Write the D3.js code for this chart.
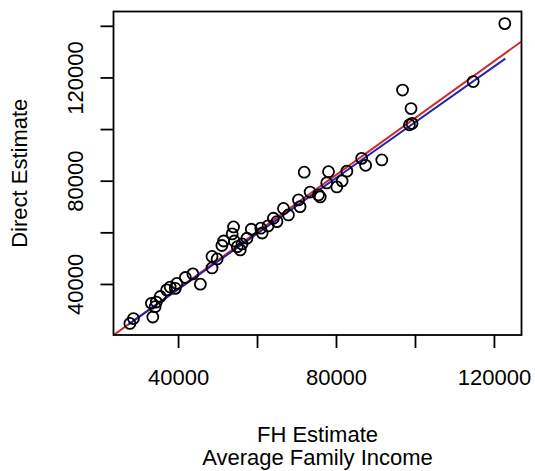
<!DOCTYPE html>
<html>
<head>
<meta charset="utf-8">
<script src="https://cdn.jsdelivr.net/npm/d3@7"></script>
<style>
  body { margin: 0; background: #fff; }
  text { font-family: "Liberation Sans", Arial, Helvetica, sans-serif; fill: #000; }
</style>
</head>
<body>
<script>
// the data points--
const fhEstimate = [27800, 28700, 33600, 33250, 34500, 34200, 35500, 37100, 38000, 39300,
  39700, 41850, 43750, 45650, 48600, 48600, 49900, 51100, 51550, 54050,
  53700, 54250, 55000, 55750, 56200, 57450, 58550, 60950, 61300, 62800,
  64150, 65050, 66700, 67950, 70500, 70900, 71950, 73450, 75550, 76000,
  77650, 78100, 80200, 81550, 82750, 86500, 87500, 91600, 96850, 99000,
  98600, 99250, 114750, 122750];
const directEstimate = [24700, 26600, 27200, 32500, 33000, 31200, 35150, 37700, 38800, 38300,
  40200, 42500, 43900, 39900, 46200, 50650, 49700, 54900, 56650, 62100,
  59400, 56650, 54450, 53200, 55500, 57700, 61200, 61600, 59750, 62500,
  65450, 64150, 69250, 66750, 72550, 69950, 83300, 75600, 74500, 73700,
  79150, 83500, 77600, 79900, 83700, 88650, 85950, 88050, 115100, 107950,
  101650, 102200, 118400, 140850];
//--

// the two fitted lines--
const redIntercept = -5880;
const redSlope = 1.101;
const blueX = [27430, 122880];
const blueY = [24300, 127290];
//--

// ticks--
const xTicks = [40000, 60000, 80000, 100000, 120000];
const xLabels = [40000, 80000, 120000];
const yTicks = [40000, 60000, 80000, 100000, 120000, 140000];
const yLabels = [40000, 80000, 120000];
//--

const w = 535;
const h = 471;
const pLeft = 113.5, pRight = 521.5, pTop = 11.5, pBottom = 335;

const xScale = d3.scaleLinear()
                 .domain([23650, 126980])
                 .range([pLeft, pRight]);

const yScale = d3.scaleLinear()
                 .domain([20230, 145540])
                 .range([pBottom, pTop]);

const svg = d3.select("body")
              .append("svg")
              .attr("width", w)
              .attr("height", h);

svg.append("defs").append("clipPath")
   .attr("id", "plotclip")
   .append("rect")
   .attr("x", pLeft).attr("y", pTop)
   .attr("width", pRight - pLeft).attr("height", pBottom - pTop);

// lines--
const xDom = xScale.domain();
svg.append("line")
   .attr("clip-path", "url(#plotclip)")
   .attr("x1", xScale(xDom[0]))
   .attr("y1", yScale(redIntercept + redSlope * xDom[0]))
   .attr("x2", xScale(xDom[1]))
   .attr("y2", yScale(redIntercept + redSlope * xDom[1]))
   .attr("stroke", "#cc2a2e")
   .attr("stroke-width", 1.9);

svg.append("line")
   .attr("x1", xScale(blueX[0]))
   .attr("y1", yScale(blueY[0]))
   .attr("x2", xScale(blueX[1]))
   .attr("y2", yScale(blueY[1]))
   .attr("stroke", "#2222b4")
   .attr("stroke-width", 1.9);
//--

// points--
svg.selectAll("circle")
   .data(fhEstimate)
   .enter()
   .append("circle")
   .attr("cx", d => xScale(d))
   .attr("cy", (d, i) => yScale(directEstimate[i]))
   .attr("r", 5.5)
   .attr("fill", "none")
   .attr("stroke", "#000")
   .attr("stroke-width", 1.8);
//--

// box--
svg.append("rect")
   .attr("x", pLeft).attr("y", pTop)
   .attr("width", pRight - pLeft).attr("height", pBottom - pTop)
   .attr("fill", "none")
   .attr("stroke", "#000")
   .attr("stroke-width", 1.8);
//--

// axes, R style: all ticks, only some labels--
let xAxis = d3.axisBottom(xScale).tickValues(xTicks).tickSize(13).tickFormat(d => xLabels.includes(d) ? d : "");
let yAxis = d3.axisLeft(yScale).tickValues(yTicks).tickSize(13).tickFormat(d => yLabels.includes(d) ? d : "");

const gx = svg.append("g")
   .attr("transform", "translate(0," + pBottom + ")")
   .call(xAxis);
gx.select(".domain").remove();
gx.selectAll("line").attr("stroke", "#000").attr("stroke-width", 1.8);
gx.selectAll("text")
  .attr("y", 50).attr("dy", 0)
  .style("font-size", "22px")
  .style("font-family", "'Liberation Sans', Arial, sans-serif");

const gy = svg.append("g")
   .attr("transform", "translate(" + pLeft + ",0)")
   .call(yAxis);
gy.select(".domain").remove();
gy.selectAll("line").attr("stroke", "#000").attr("stroke-width", 1.8);
gy.selectAll("text")
  .attr("x", 0).attr("dy", 0)
  .attr("transform", "translate(-31,0) rotate(-90)")
  .attr("text-anchor", "middle")
  .style("font-size", "22px")
  .style("font-family", "'Liberation Sans', Arial, sans-serif");
//--

// axis titles--
const cx = (pLeft + pRight) / 2;
svg.append("text")
   .attr("x", cx).attr("y", 442)
   .attr("text-anchor", "middle")
   .style("font-size", "22px")
   .text("FH Estimate");
svg.append("text")
   .attr("x", cx).attr("y", 465)
   .attr("text-anchor", "middle")
   .style("font-size", "22px")
   .text("Average Family Income");

svg.append("text")
   .attr("transform", "translate(27," + ((pTop + pBottom) / 2) + ") rotate(-90)")
   .attr("text-anchor", "middle")
   .style("font-size", "22px")
   .text("Direct Estimate");
//--
</script>
</body>
</html>
